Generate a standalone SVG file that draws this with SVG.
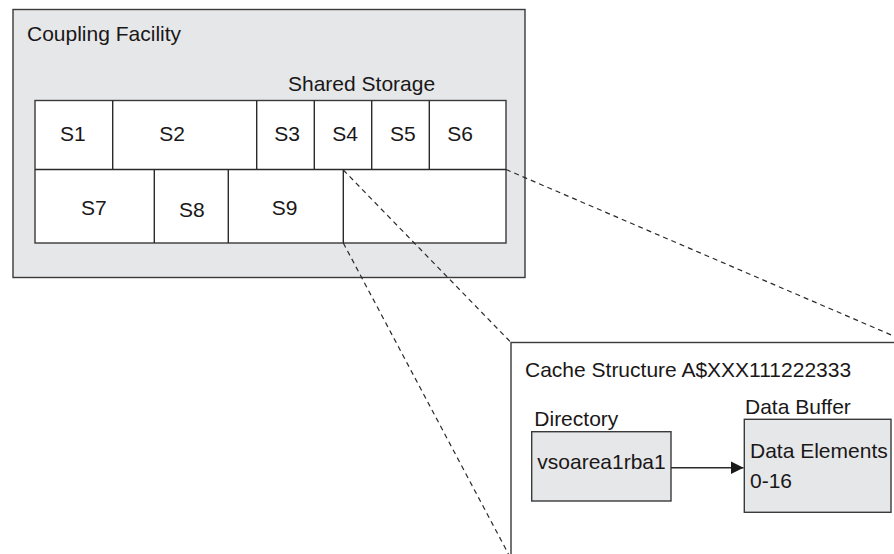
<svg xmlns="http://www.w3.org/2000/svg" width="894" height="554" viewBox="0 0 894 554">
<style>
.box{fill:#e6e7e8;stroke:#3a3a3a;stroke-width:1.4}
.cell{fill:#ffffff;stroke:#3a3a3a;stroke-width:1.4}
.ln{fill:none;stroke:#2a2a2a;stroke-width:1.4}
.dash{fill:none;stroke:#2a2a2a;stroke-width:1.2;stroke-dasharray:5 4}
text{font-family:"Liberation Sans",Arial,sans-serif;font-size:21px;fill:#1a1718}
</style>
<defs>
<marker id="ah" viewBox="0 0 13 13" refX="13" refY="6.5" markerWidth="13" markerHeight="13" markerUnits="userSpaceOnUse" orient="auto">
<path d="M0,0 L13,6.5 L0,13 Z" fill="#1a1a1a"/>
</marker>
</defs>
<g id="coupling-facility">
<rect class="box" x="13" y="9.5" width="512" height="268"/>
<text x="27" y="41">Coupling Facility</text>
</g>
<g id="shared-storage">
<text x="288" y="91">Shared Storage</text>
<rect class="cell" x="35" y="100.5" width="471" height="142.5"/>
<line class="ln" x1="35" y1="169.5" x2="506" y2="169.5"/>
<line class="ln" x1="112.7" y1="100.5" x2="112.7" y2="169.5"/>
<line class="ln" x1="256.7" y1="100.5" x2="256.7" y2="169.5"/>
<line class="ln" x1="314.3" y1="100.5" x2="314.3" y2="169.5"/>
<line class="ln" x1="371.7" y1="100.5" x2="371.7" y2="169.5"/>
<line class="ln" x1="429.3" y1="100.5" x2="429.3" y2="169.5"/>
<line class="ln" x1="154.3" y1="169.5" x2="154.3" y2="243"/>
<line class="ln" x1="228.3" y1="169.5" x2="228.3" y2="243"/>
<line class="ln" x1="343.3" y1="169.5" x2="343.3" y2="243"/>
</g>
<g id="S1"><text x="60" y="140.5">S1</text></g>
<g id="S2"><text x="159.3" y="140.5">S2</text></g>
<g id="S3"><text x="274.3" y="140.5">S3</text></g>
<g id="S4"><text x="332.3" y="140.5">S4</text></g>
<g id="S5"><text x="390" y="140.5">S5</text></g>
<g id="S6"><text x="447.3" y="140.5">S6</text></g>
<g id="S7"><text x="81" y="215">S7</text></g>
<g id="S8"><text x="179" y="216.5">S8</text></g>
<g id="S9"><text x="271.7" y="215">S9</text></g>
<g id="cache-structure">
<rect class="cell" x="511" y="342.5" width="420" height="260"/>
<text x="525" y="377.3">Cache Structure A$XXX111222333</text>
</g>
<g id="directory">
<text x="534.3" y="426">Directory</text>
<rect class="box" x="531.7" y="431.7" width="139.3" height="69.3"/>
<text x="537.3" y="469">vsoarea1rba1</text>
</g>
<g id="data-buffer">
<text x="745" y="414.3">Data Buffer</text>
<rect class="box" x="744.3" y="419.3" width="146.7" height="93"/>
<text x="750" y="458.3">Data Elements</text>
<text x="750" y="488.3">0-16</text>
</g>
<g id="connectors">
<line class="dash" x1="343.3" y1="170" x2="511" y2="342.5"/>
<line class="dash" x1="343.3" y1="243" x2="509.5" y2="556"/>
<line class="dash" x1="506" y1="169.5" x2="896" y2="337"/>
<line class="ln" x1="671" y1="467.7" x2="743.5" y2="467.7" marker-end="url(#ah)"/>
</g>
</svg>
